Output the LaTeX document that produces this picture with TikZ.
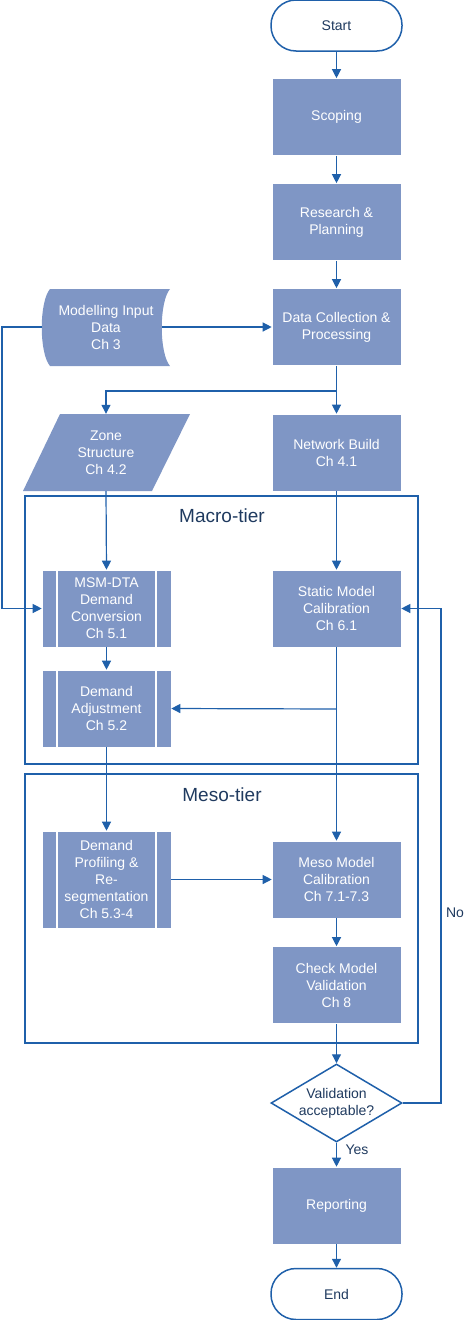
\documentclass[tikz,border=0pt]{standalone}
\usepackage{fontspec}
\setmainfont{Liberation Sans}
\usetikzlibrary{shapes.geometric,arrows.meta}
\definecolor{boxfill}{HTML}{7F96C5}
\definecolor{lineblue}{HTML}{1F60AA}
\definecolor{navy}{HTML}{1F3A5F}
\begin{document}
\begin{tikzpicture}[x=1pt,y=-1pt,
  proc/.style={rectangle, fill=boxfill, draw=white, line width=0.6pt, minimum width=129pt, minimum height=77pt, inner sep=2pt, text=white, font=\fontsize{14}{17}\selectfont, align=center},
  pproc/.style={proc, path picture={\draw[white,line width=2pt] ([xshift=15pt]path picture bounding box.north west) -- ([xshift=15pt]path picture bounding box.south west) ([xshift=-15pt]path picture bounding box.north east) -- ([xshift=-15pt]path picture bounding box.south east);}},
  term/.style={rectangle, rounded corners=25pt, draw=lineblue, line width=1.5pt, fill=white, minimum width=131pt, minimum height=51pt, text=navy, font=\fontsize{14}{17}\selectfont},
  tier/.style={rectangle, draw=lineblue, line width=1.8pt, minimum width=393pt},
  tierlbl/.style={text=navy, font=\fontsize{19}{22}\selectfont},
  txt/.style={text=white, font=\fontsize{14}{17}\selectfont, align=center, inner sep=0pt},
  dectxt/.style={text=navy, font=\fontsize{14}{17}\selectfont, align=center, inner sep=0pt},
  lbl/.style={text=navy, font=\fontsize{14}{17}\selectfont, inner sep=0pt},
  decshape/.style={diamond, draw=lineblue, line width=1.5pt, fill=white, minimum width=131pt, minimum height=78pt, inner sep=0pt},
  ghost/.style={rectangle, minimum width=120pt, minimum height=77pt, inner sep=0pt},
  arr/.style={draw=lineblue, line width=1.2pt, -{Triangle[length=9pt,width=9pt]}},
  ln/.style={draw=lineblue, line width=1.2pt}
]
\useasboundingbox (0,0) rectangle (466,1320);

% tier boxes
\node[tier, minimum height=268pt] (macro) at (221.5,630) {};
\node[tierlbl] (macrolbl) at (222,516) {Macro-tier};
\node[tier, minimum height=269pt] (mesobox) at (221.5,908.5) {};
\node[tierlbl] (mesolbl) at (222,795) {Meso-tier};

% nodes
\node[term] (start) at (336.5,25.5) {Start};
\node[proc] (scop) at (336.5,117) {Scoping};
\node[proc] (res) at (336.5,222) {Research \&\\Planning};
\node[proc] (dcp) at (336.5,327) {Data Collection \&\\Processing};

\fill[boxfill] (50,289) -- (170,289) .. controls (159,302) and (159,353) .. (170,366) -- (50,366) .. controls (39,353) and (39,302) .. (50,289) -- cycle;
\node[txt] (mid) at (106,327) {Modelling Input\\Data\\Ch 3};
\coordinate (midL) at (42,327);
\coordinate (midR) at (162,327);

\fill[boxfill] (60,414) -- (190,414) -- (152,491) -- (23,491) -- cycle;
\node[ghost] (zone) at (106,452.5) {};
\node[txt] (zonetxt) at (106,452.5) {Zone\\Structure\\Ch 4.2};

\node[proc] (net) at (336.5,452.5) {Network Build\\Ch 4.1};
\node[pproc] (msm) at (106.5,608.5) {MSM-DTA\\Demand\\Conversion\\Ch 5.1};
\node[proc] (stat) at (336.5,608.5) {Static Model\\Calibration\\Ch 6.1};
\node[pproc] (adj) at (106.5,708.5) {Demand\\Adjustment\\Ch 5.2};
\node[pproc, minimum height=97pt] (prof) at (106.5,879.5) {Demand\\Profiling \&\\Re-\\segmentation\\Ch 5.3-4};
\node[proc] (meso) at (336.5,879.5) {Meso Model\\Calibration\\Ch 7.1-7.3};
\node[proc] (check) at (336.5,985) {Check Model\\Validation\\Ch 8};
\node[decshape] (dec) at (336.5,1103) {};
\node[dectxt] (dectext) at (336.5,1103) {Validation\\acceptable?};
\node[proc] (rep) at (336.5,1205.5) {Reporting};
\node[term] (end) at (336.5,1294) {End};

% connectors
\draw[arr] (start.south) -- (scop.north);
\draw[arr] (scop.south) -- (res.north);
\draw[arr] (res.south) -- (dcp.north);
\draw[arr] (midR) -- (dcp.west);
\coordinate (loopL) at (2,608.5);
\draw[arr] (midL) -| (loopL) -- (msm.west);
\draw[arr] (dcp.south) -- (net.north);
\coordinate (br1) at (336.5,391);
\draw[arr] (br1) -| (zone.north);
\draw[arr] (zone.south) -- (msm.north);
\draw[arr] (net.south) -- (stat.north);
\draw[arr] (msm.south) -- (adj.north);
\draw[arr] (stat.south) -- (meso.north);
\coordinate (br2) at (336.5,709);
\draw[arr] (br2) -- (adj.east);
\draw[arr] (adj.south) -- (prof.north);
\draw[arr] (prof.east) -- (meso.west);
\draw[arr] (meso.south) -- (check.north);
\draw[arr] (check.south) -- (dec.north);
\draw[arr] (dec.south) -- (rep.north);
\node[lbl] (yes) at (357,1150) {Yes};
\coordinate (loopR) at (441,608.5);
\draw[arr] (dec.east) -| (loopR) -- (stat.east);
\node[lbl] (no) at (455,913) {No};
\draw[arr] (rep.south) -- (end.north);
\end{tikzpicture}
\end{document}
